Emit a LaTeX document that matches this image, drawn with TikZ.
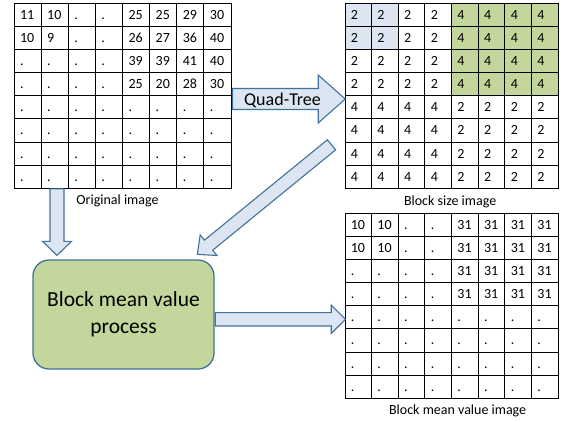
\documentclass[tikz,border=0pt]{standalone}
\usepackage{fontspec}
\setmainfont{Carlito}
\usetikzlibrary{matrix,positioning,calc}
\definecolor{cellblue}{HTML}{DCE6F2}
\definecolor{cellgreen}{HTML}{C3D69B}
\definecolor{arrline}{HTML}{41719C}
\tikzset{
	cell/.style={draw, line width=1pt, outer sep=0pt, inner xsep=5pt, text width=15pt, align=left,
		text height=11pt, text depth=2pt, minimum height=23.125pt, font=\fontsize{14}{16}\selectfont},
	imgmatrix/.style={matrix of nodes, row sep=-1pt, column sep=-1pt, inner sep=0pt, outer sep=0pt, anchor=north west},
	lb/.style={fill=cellblue},
	lg/.style={fill=cellgreen},
	lbl/.style={inner sep=0pt, font=\fontsize{14}{16}\selectfont},
	procbox/.style={draw=arrline, fill=cellgreen, line width=1.3pt, rounded corners=16pt, minimum width=181pt,
		minimum height=109pt, align=center, font=\fontsize{21.5}{27.5}\selectfont},
	fatarrow/.style={draw=arrline, fill=cellblue, line width=1.1pt, line join=miter},
}
% from, to, shaft half width, head half width, head length
\newcommand{\blockarrow}[5]{%
	\path ($(#2)!#5!(#1)$) coordinate (bah);
	\draw[fatarrow] ($(#1)!#3!90:(#2)$) -- ($(bah)!#3!90:(#2)$) -- ($(bah)!#4!90:(#2)$) -- (#2)
		-- ($(bah)!#4!-90:(#2)$) -- ($(bah)!#3!-90:(#2)$) -- ($(#1)!#3!-90:(#2)$) -- cycle;
}
\begin{document}
\begin{tikzpicture}[x=1pt,y=-1pt]
		\useasboundingbox (0,0) rectangle (565,421);
		% original image
		\matrix[imgmatrix, nodes={cell, minimum width=27.125pt}] (orig) at (13.5,2.8) {
			11 & 10 & . & . & 25 & 25 & 29 & 30 \\
			10 & 9 & . & . & 26 & 27 & 36 & 40 \\
			. & . & . & . & 39 & 39 & 41 & 40 \\
			. & . & . & . & 25 & 20 & 28 & 30 \\
			. & . & . & . & . & . & . & . \\
			. & . & . & . & . & . & . & . \\
			. & . & . & . & . & . & . & . \\
			. & . & . & . & . & . & . & . \\
		};
		% block size image
		\matrix[imgmatrix, nodes={cell, minimum width=26.66pt}] (size) at (344.5,2.8) {
			|[lb]|2 & |[lb]|2 & 2 & 2 & |[lg]|4 & |[lg]|4 & |[lg]|4 & |[lg]|4 \\
			|[lb]|2 & |[lb]|2 & 2 & 2 & |[lg]|4 & |[lg]|4 & |[lg]|4 & |[lg]|4 \\
			2 & 2 & 2 & 2 & |[lg]|4 & |[lg]|4 & |[lg]|4 & |[lg]|4 \\
			2 & 2 & 2 & 2 & |[lg]|4 & |[lg]|4 & |[lg]|4 & |[lg]|4 \\
			4 & 4 & 4 & 4 & 2 & 2 & 2 & 2 \\
			4 & 4 & 4 & 4 & 2 & 2 & 2 & 2 \\
			4 & 4 & 4 & 4 & 2 & 2 & 2 & 2 \\
			4 & 4 & 4 & 4 & 2 & 2 & 2 & 2 \\
		};
		% block mean value image
		\matrix[imgmatrix, nodes={cell, minimum width=26.66pt}] (mean) at (344.5,212.8) {
			10 & 10 & . & . & 31 & 31 & 31 & 31 \\
			10 & 10 & . & . & 31 & 31 & 31 & 31 \\
			. & . & . & . & 31 & 31 & 31 & 31 \\
			. & . & . & . & 31 & 31 & 31 & 31 \\
			. & . & . & . & . & . & . & . \\
			. & . & . & . & . & . & . & . \\
			. & . & . & . & . & . & . & . \\
			. & . & . & . & . & . & . & . \\
		};
		\node[lbl, below=6pt of orig, xshift=-5pt] (origlbl) {Original image};
		\node[lbl, below=7pt of size, xshift=-1.5pt] (sizelbl) {Block size image};
		\node[lbl, below=6.2pt of mean, xshift=6pt] (meanlbl) {Block mean value image};
		\node[procbox] (proc) at (123.5,314.5) {Block mean value\\process};
		% arrows
		\coordinate (dtail) at ($(orig.south west)+(43.5,0)$);
		\coordinate (dtip) at ($(dtail |- proc.north)+(0,-4)$);
		\blockarrow{dtail}{dtip}{7pt}{14.5pt}{14pt}
		\coordinate (qtail) at ($(orig.east)+(1,3.2)$);
		\coordinate (qtip) at ($(qtail -| size.west)+(0.7,0)$);
		\blockarrow{qtail}{qtip}{10.5pt}{24pt}{27pt}
		\node[inner sep=0pt, font=\fontsize{18}{20}\selectfont] (qlabel) at ($(qtail)+(50,1.5)$) {Quad-Tree};
		\coordinate (gtail) at ($(size.west)+(-13,49)$);
		\coordinate (gtip) at ($(proc.north east)+(-17.3,-5)$);
		\blockarrow{gtail}{gtip}{6.5pt}{13.3pt}{14.5pt}
		\coordinate (rtail) at ($(proc.east)+(0.7,4.8)$);
		\coordinate (rtip) at ($(rtail -| mean.west)+(1,0)$);
		\blockarrow{rtail}{rtip}{6.7pt}{14.2pt}{14.3pt}
\end{tikzpicture}
\end{document}
